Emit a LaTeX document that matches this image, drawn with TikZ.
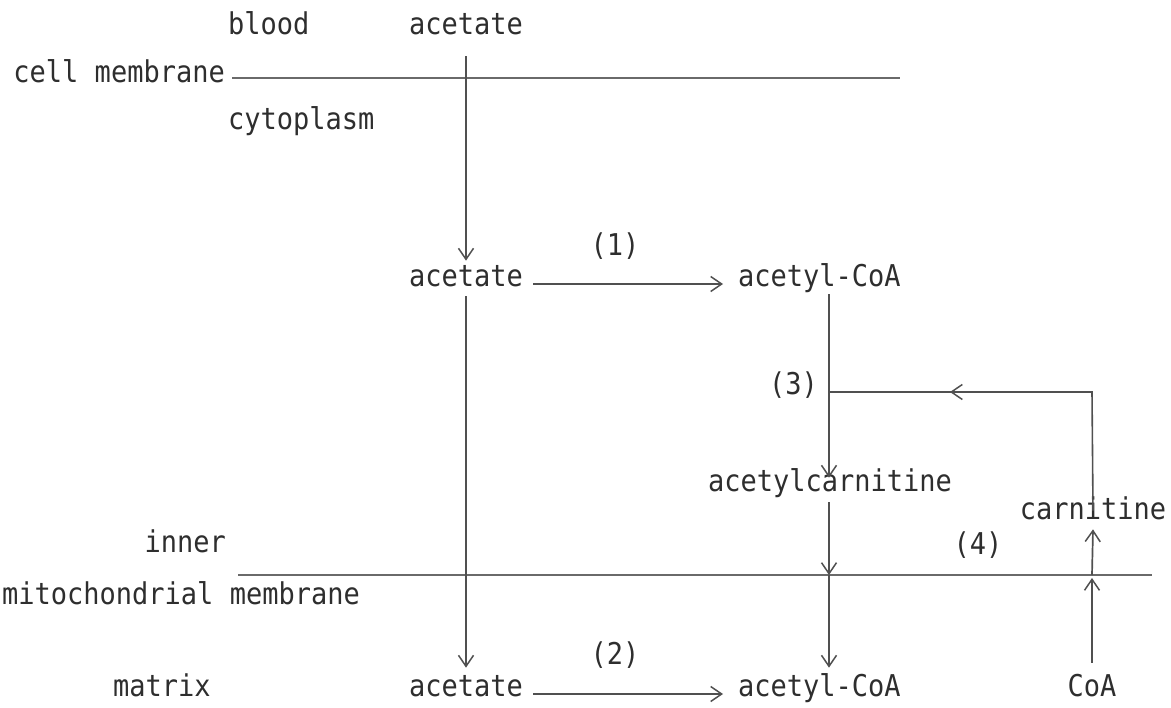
\documentclass[tikz,border=0pt]{standalone}
\usepackage{fontspec}
\setmonofont[FakeStretch=0.9]{DejaVu Sans Mono}
\usetikzlibrary{arrows.meta,calc}
\definecolor{ink}{HTML}{2E2E2E}
\definecolor{rule}{HTML}{505050}
\definecolor{wallgray}{HTML}{6A6A6A}
\begin{document}
\begin{tikzpicture}[x=1pt,y=-1pt,
  lbl/.style={inner sep=0pt, text height=1ex, text depth=0pt, text=ink,
              font=\ttfamily\fontsize{30}{34}\selectfont},
  flow/.style={draw=rule, line width=1.7pt,
               -{Straight Barb[length=11pt,width=15pt,line width=1.5pt]}},
  wall/.style={draw=wallgray, line width=1.6pt},
  link/.style={draw=rule, line width=1.6pt}]
\useasboundingbox (0,0) rectangle (1171,708);

% compartments
\node[lbl, anchor=west] (blood) at (228,32) {blood};
\node[lbl, anchor=east] (cellmem) at (225,80) {cell membrane};
\node[lbl, anchor=west] (cyto) at (228,127) {cytoplasm};
\node[lbl, anchor=east] (inner) at (226,550) {inner};
\node[lbl, anchor=west] (mito) at (2,602) {mitochondrial membrane};
\node[lbl, anchor=west] (matrix) at (113,694) {matrix};

% metabolites
\node[lbl] (acA) at (466,32) {acetate};
\node[lbl] (acB) at (466,284) {acetate};
\node[lbl] (acC) at (466,694) {acetate};
\node[lbl, anchor=west] (coaA) at (738,284) {acetyl-CoA};
\node[lbl, anchor=west] (coaB) at (738,694) {acetyl-CoA};
\node[lbl] (acarn) at (830,489) {acetylcarnitine};
\node[lbl] (carn) at (1093,517) {carnitine};
\node[lbl] (coa) at (1092,694) {CoA};

% reaction numbers
\node[lbl] (r1) at (615,253) {(1)};
\node[lbl] (r2) at (615,662) {(2)};
\node[lbl, anchor=east] (r3) at (818,392) {(3)};
\node[lbl] (r4) at (978,552) {(4)};

% membranes
\coordinate (cmStart) at (232,78);
\coordinate (cmEnd) at (900,78);
\coordinate (imStart) at (238,575);
\coordinate (imEnd) at (1152,575);
\path[wall] (cmStart) -- (cmEnd);
\path[wall] (imStart) -- (imEnd);

% junction points
\coordinate (j3) at (829,392);
\coordinate (c1) at (1092,392);
\coordinate (c1arrow) at (950,392);
\coordinate (m2) at (829,575);
\coordinate (m3) at (1092,575);
\coordinate (m3low) at (1092,578);

% acetate uptake and activation
\path[flow] ($(acA.south)+(0,22)$) -- ($(acB.north)+(0,-21)$);
\path[flow] ($(acB.south)+(0,10)$) -- ($(acC.north)+(0,-24)$);
\path[flow] ($(acB.east)+(10,0)$) -- ($(coaA.west)+(-15,0)$);
\path[flow] ($(acC.east)+(10,0)$) -- ($(coaB.west)+(-15,0)$);

% carnitine shuttle
\path[flow] ($(coaA.south -| j3)+(0,8)$) -- ($(acarn.north -| j3)+(0,-9)$);
\path[link] ($(carn.north)+(0,-4)$) -- (c1) -- (j3);
\path[flow] (c1) -- (c1arrow);
\path[flow] ($(acarn.south -| m2)+(0,11)$) -- (m2);
\path[flow] (m2) -- ($(coaB.north -| m2)+(0,-24)$);
\path[flow] ($(coa.north)+(0,-29)$) -- (m3low);
\path[flow] (m3) -- ($(carn.south)+(0,10)$);
\end{tikzpicture}
\end{document}
